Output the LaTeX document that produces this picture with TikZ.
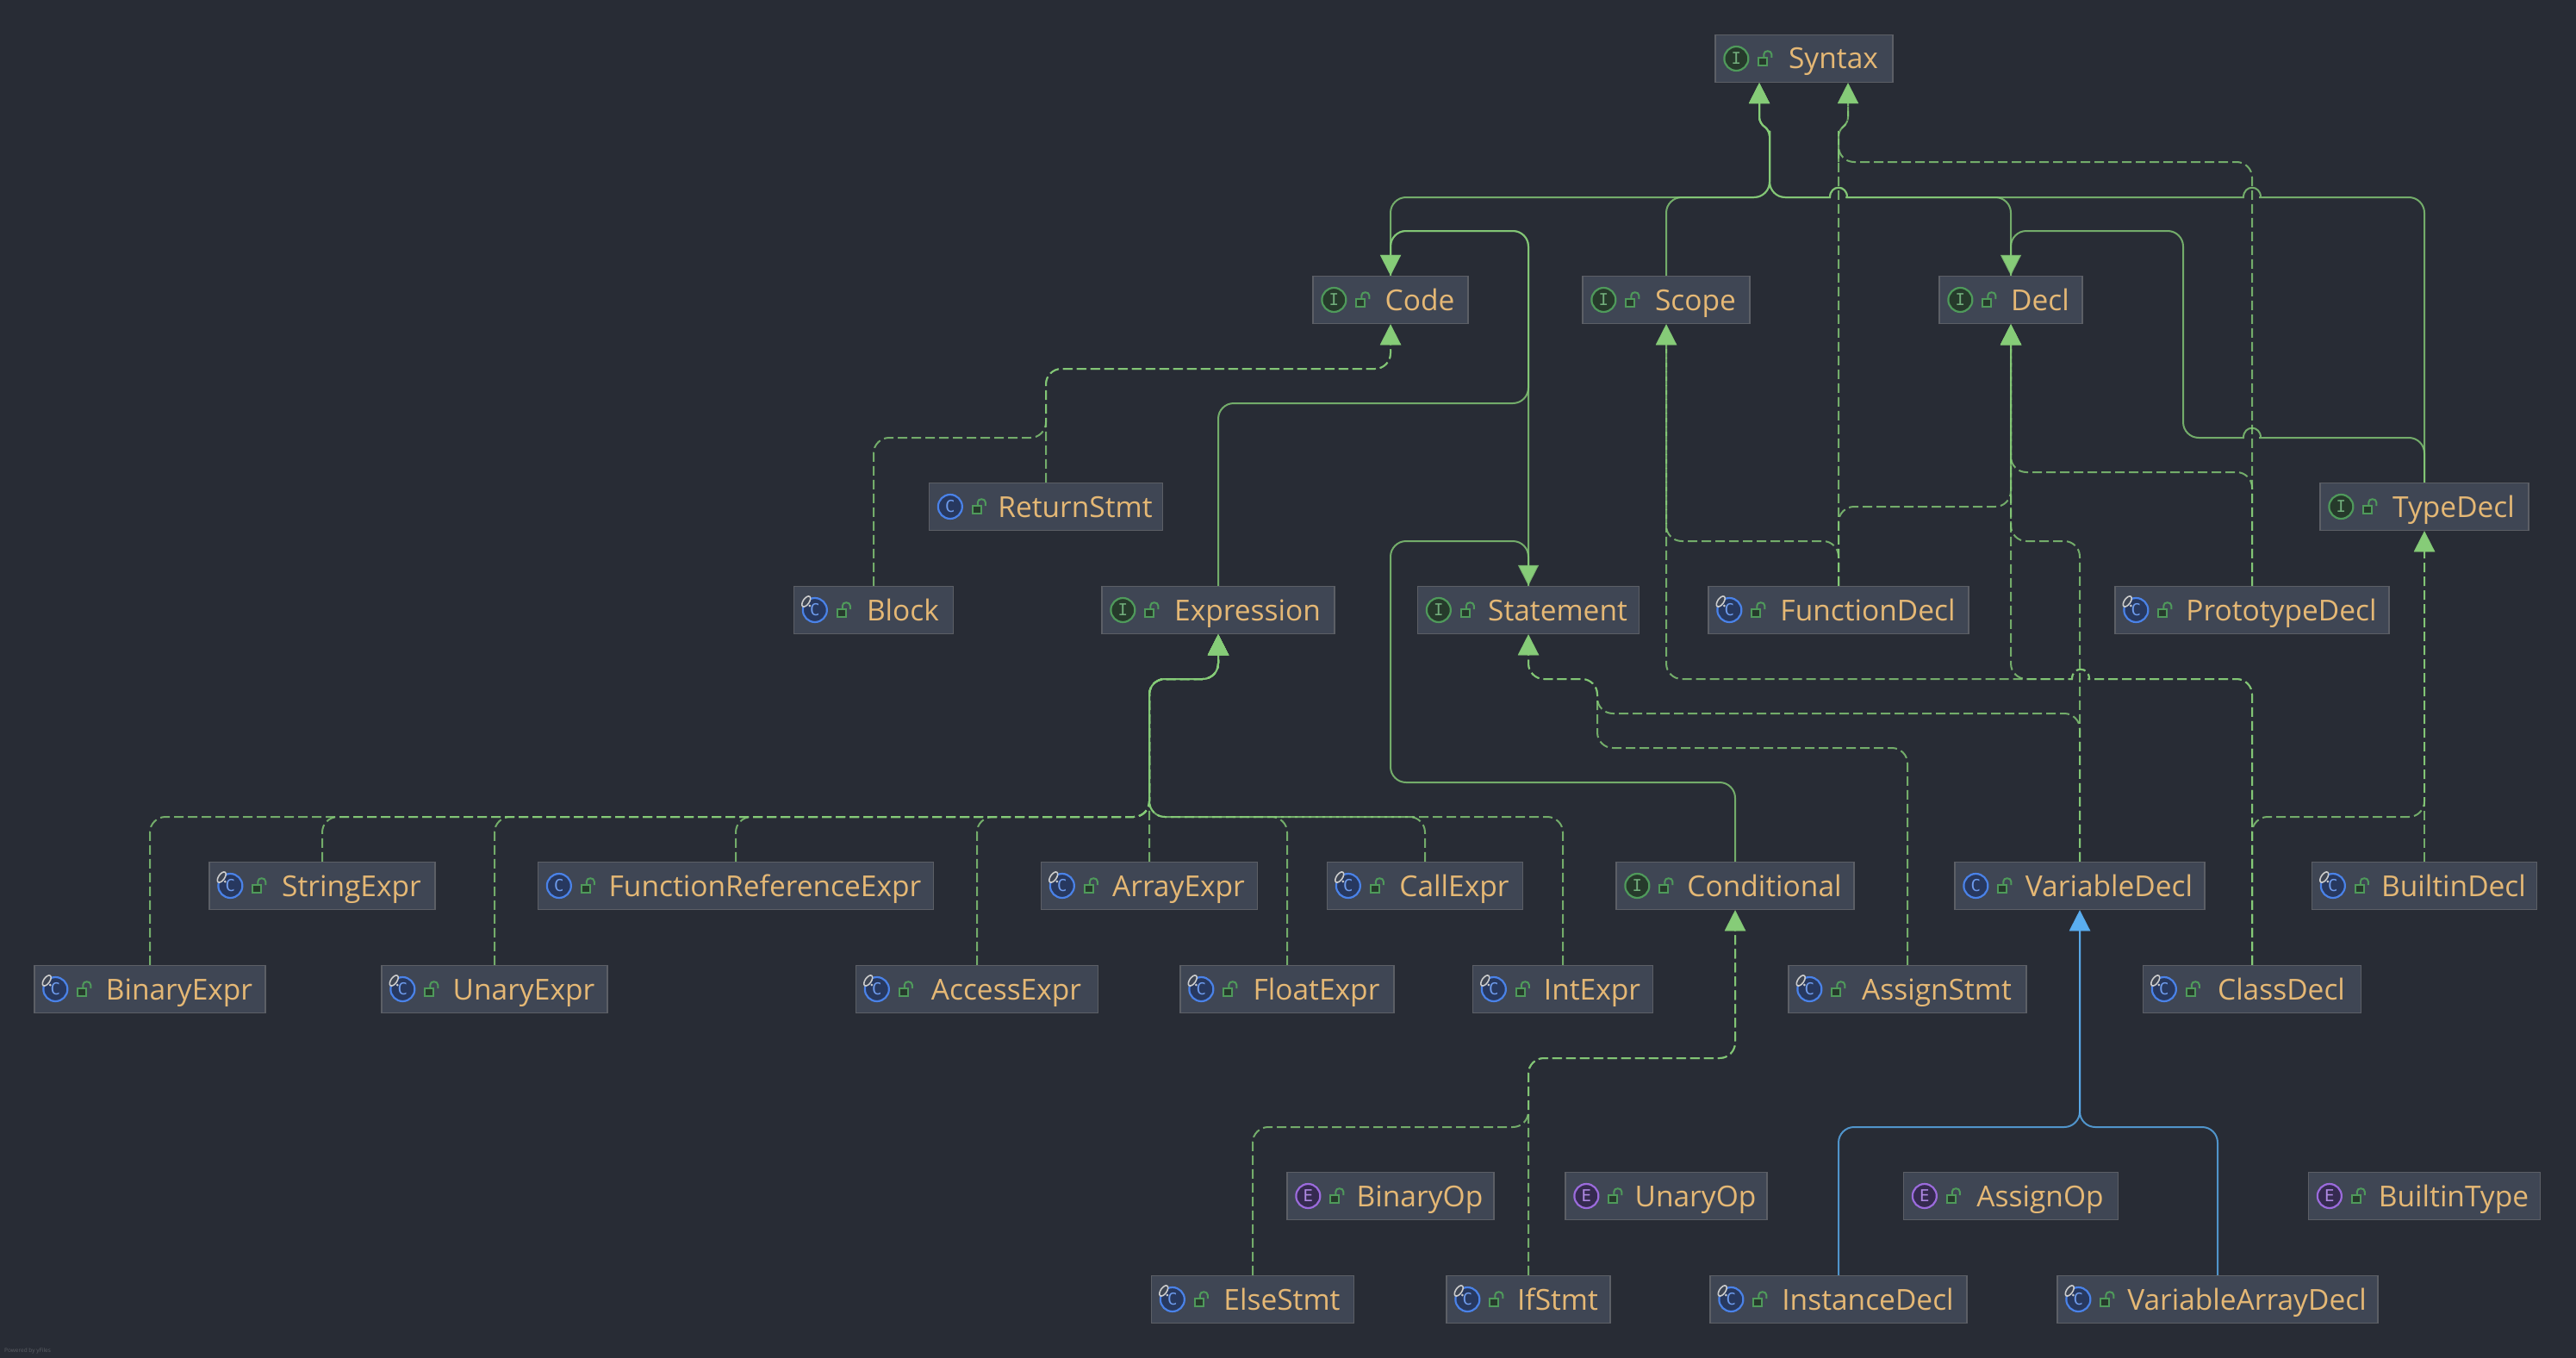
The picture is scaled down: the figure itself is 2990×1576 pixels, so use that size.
\documentclass[tikz,border=0pt]{standalone}
\usepackage{fontspec}
\setmainfont{Open Sans}
\newfontfamily\iconfont{DejaVu Sans Mono}
\usetikzlibrary{positioning}
\usetikzlibrary{arrows.meta}

\definecolor{canvasbg}{HTML}{282C35}
\definecolor{boxfill}{HTML}{3F4654}
\definecolor{boxline}{HTML}{5C5F66}
\definecolor{labeltext}{HTML}{E5B875}
\definecolor{edgegreen}{HTML}{86CC78}
\definecolor{edgeblue}{HTML}{5AAEF0}
\definecolor{lockgreen}{HTML}{4F9A5B}
\definecolor{lockfill}{HTML}{263A2B}
\definecolor{classline}{HTML}{4A82E8}
\definecolor{classfill}{HTML}{27385F}
\definecolor{enumline}{HTML}{9B6BDC}
\definecolor{enumfill}{HTML}{352A50}

\tikzset{
	typebox/.style = {draw = boxline, line width = 1.5pt, fill = boxfill, text = labeltext, minimum height = 55pt, inner xsep = 0pt, inner ysep = 0pt, text height = 28pt, text depth = 4pt, font = \fontsize{33.5}{40}\selectfont, execute at begin node = {\hspace*{68pt}}},
	iconbase/.style = {circle, line width = 2.2pt, minimum size = 28pt, inner sep = 0pt, font = \iconfont\fontsize{19}{20}\selectfont},
	ifaceicon/.style = {iconbase, draw = lockgreen, fill = lockfill, text = lockgreen!80!white, node contents = {I}},
	classicon/.style = {iconbase, draw = classline, fill = classfill, text = classline!80!white, node contents = {C}},
	enumicon/.style = {iconbase, draw = enumline, fill = enumfill, text = enumline!80!white, node contents = {E}},
	lockicon/.style = {line width = 2pt, draw = lockgreen},
	tagmark/.style = {line width = 1.6pt, draw = black!20!white},
	ext/.style = {draw = edgegreen, draw opacity = 0.8, line width = 2pt, rounded corners = 18pt, -{Triangle[length = 24pt, width = 24pt, fill = edgegreen]}},
	impl/.style = {ext, dash pattern = on 11pt off 5pt},
	nested/.style = {ext, draw = edgeblue, -{Triangle[length = 24pt, width = 24pt, fill = edgeblue]}}
}

\newcommand{\typenode}[6]{
	\node [typebox, minimum width = #4] (#1) at (#2, #3) {#5};
	\node [name = #1icon, right = 10pt of #1.west, #6];
	\draw [lockicon, fill = lockfill] ([shift = {(51, -1)}]#1.west) rectangle ([shift = {(61, 8)}]#1.west);
	\draw [lockicon] ([shift = {(57, -1)}]#1.west) -- ([shift = {(57, -5)}]#1.west) .. controls ([shift = {(57, -10)}]#1.west) and ([shift = {(66, -10)}]#1.west) .. ([shift = {(66, -5)}]#1.west) -- ([shift = {(66, -1)}]#1.west);
}
\newcommand{\abstractnode}[5]{
	\typenode{#1}{#2}{#3}{#4}{#5}{classicon}
	\coordinate (#1tag) at ([shift = {(15, -10)}]#1.west);
	\draw [tagmark, fill = boxfill] (#1tag) circle [x radius = 7pt, y radius = 3.5pt, rotate = 55];
	\fill [black!20!white] ([shift = {(19, -5)}]#1.west) circle [radius = 1.5pt];
}

\begin{document}
\begin{tikzpicture}[x = 1pt, y = -1pt]
	\useasboundingbox [fill = canvasbg] (0, 0) rectangle (2990, 1576);

	% interfaces and classes, row by row
	\typenode{syntax}{2094}{68}{206}{Syntax}{ifaceicon}
	\typenode{code}{1614}{348}{180}{Code}{ifaceicon}
	\typenode{scope}{1934}{348}{194}{Scope}{ifaceicon}
	\typenode{decl}{2334}{348}{166}{Decl}{ifaceicon}
	\typenode{returnstmt}{1214}{588}{271}{ReturnStmt}{classicon}
	\typenode{typedecl}{2814}{588}{242}{TypeDecl}{ifaceicon}
	\abstractnode{block}{1014}{708}{185}{Block}
	\typenode{expression}{1414}{708}{270}{Expression}{ifaceicon}
	\typenode{statement}{1774}{708}{257}{Statement}{ifaceicon}
	\abstractnode{functiondecl}{2134}{708}{302}{FunctionDecl}
	\abstractnode{prototypedecl}{2614}{708}{318}{PrototypeDecl}
	\abstractnode{stringexpr}{374}{1028}{262}{StringExpr}
	\typenode{functionreferenceexpr}{854}{1028}{459}{FunctionReferenceExpr}{classicon}
	\abstractnode{arrayexpr}{1334}{1028}{251}{ArrayExpr}
	\abstractnode{callexpr}{1654}{1028}{227}{CallExpr}
	\typenode{conditional}{2014}{1028}{276}{Conditional}{ifaceicon}
	\typenode{variabledecl}{2414}{1028}{290}{VariableDecl}{classicon}
	\abstractnode{builtindecl}{2814}{1028}{261}{BuiltinDecl}
	\abstractnode{binaryexpr}{174}{1148}{268}{BinaryExpr}
	\abstractnode{unaryexpr}{574}{1148}{262}{UnaryExpr}
	\abstractnode{accessexpr}{1134}{1148}{281}{AccessExpr}
	\abstractnode{floatexpr}{1494}{1148}{248}{FloatExpr}
	\abstractnode{intexpr}{1814}{1148}{209}{IntExpr}
	\abstractnode{assignstmt}{2214}{1148}{276}{AssignStmt}
	\abstractnode{classdecl}{2614}{1148}{253}{ClassDecl}
	\typenode{binaryop}{1614}{1388}{240}{BinaryOp}{enumicon}
	\typenode{unaryop}{1934}{1388}{234}{UnaryOp}{enumicon}
	\typenode{assignop}{2334}{1388}{249}{AssignOp}{enumicon}
	\typenode{builtintype}{2814}{1388}{269}{BuiltinType}{enumicon}
	\abstractnode{elsestmt}{1454}{1508}{235}{ElseStmt}
	\abstractnode{ifstmt}{1774}{1508}{190}{IfStmt}
	\abstractnode{instancedecl}{2134}{1508}{298}{InstanceDecl}
	\abstractnode{variablearraydecl}{2574}{1508}{372}{VariableArrayDecl}

	\coordinate (syntaxext) at ([xshift = -52pt]syntax.south);
	\coordinate (syntaximpl) at ([xshift = 51pt]syntax.south);

	% extends
	\draw [ext] (code.north) |- (2054, 229) -- (2054, 170) [rounded corners = 6pt] -- (2054, 152) -- (2042, 142) -- (syntaxext);
	\draw [ext] (scope.north) |- (2054, 229) -- (2054, 170) [rounded corners = 6pt] -- (2054, 152) -- (2042, 142) -- (syntaxext);
	\draw [ext] (decl.north) -- (2334, 229) -- (2160, 229) [sharp corners] -- (2144, 229) .. controls (2144, 214) and (2124, 214) .. (2124, 229) -- (2108, 229) [rounded corners = 18pt] -- (2054, 229) -- (2054, 170) [rounded corners = 6pt] -- (2054, 152) -- (2042, 142) -- (syntaxext);
	\draw [ext] (typedecl.north) -- (2814, 229) -- (2640, 229) [sharp corners] -- (2624, 229) .. controls (2624, 214) and (2604, 214) .. (2604, 229) -- (2144, 229) .. controls (2144, 214) and (2124, 214) .. (2124, 229) -- (2108, 229) [rounded corners = 18pt] -- (2054, 229) -- (2054, 170) [rounded corners = 6pt] -- (2054, 152) -- (2042, 142) -- (syntaxext);
	\draw [ext] (statement.north) -- (1774, 268) -- (1614, 268) -- (code.north);
	\draw [ext] (expression.north) -- (1414, 468) -- (1774, 468) -- (1774, 268) -- (1614, 268) -- (code.north);
	\draw [ext] (conditional.north) -- (2014, 908) -- (1614, 908) -- (1614, 628) -- (1774, 628) -- (statement.north);
	\draw [ext] (typedecl.north) -- (2814, 508) -- (2640, 508) [sharp corners] -- (2624, 508) .. controls (2624, 493) and (2604, 493) .. (2604, 508) -- (2588, 508) [rounded corners = 18pt] -- (2534, 508) -- (2534, 268) -- (2334, 268) -- (decl.north);
	\draw [nested] (instancedecl.north) -- (2134, 1308) -- (2414, 1308) -- (variabledecl.south);
	\draw [nested] (variablearraydecl.north) -- (2574, 1308) -- (2414, 1308) -- (variabledecl.south);

	% implements
	\draw [impl] (functiondecl.north) -- (2134, 170) [rounded corners = 6pt] -- (2134, 152) -- (2145, 142) -- (syntaximpl);
	\draw [impl] (prototypedecl.north) -- (2614, 188) -- (2134, 188) -- (2134, 170) [rounded corners = 6pt] -- (2134, 152) -- (2145, 142) -- (syntaximpl);
	\draw [impl] (functiondecl.north) -- (2134, 628) -- (1934, 628) -- (scope.south);
	\draw [impl] (functiondecl.north) -- (2134, 588) -- (2334, 588) -- (decl.south);
	\draw [impl] (prototypedecl.north) -- (2614, 548) -- (2334, 548) -- (decl.south);
	\draw [impl] (classdecl.north) -- (2614, 788) -- (2441, 788) [sharp corners] -- (2425, 788) .. controls (2425, 773) and (2405, 773) .. (2405, 788) -- (2389, 788) [rounded corners = 18pt] -- (2334, 788) -- (decl.south);
	\draw [impl] (classdecl.north) -- (2614, 788) -- (2441, 788) [sharp corners] -- (2425, 788) .. controls (2425, 773) and (2405, 773) .. (2405, 788) -- (2389, 788) [rounded corners = 18pt] -- (1934, 788) -- (scope.south);
	\draw [impl] (classdecl.north) -- (2614, 948) -- (2814, 948) -- (typedecl.south);
	\draw [impl] (builtindecl.north) -- (typedecl.south);
	\draw [impl] (variabledecl.north) -- (2414, 628) -- (2334, 628) -- (decl.south);
	\draw [impl] (variabledecl.north) -- (2414, 828) -- (1854, 828) -- (1854, 788) -- (1774, 788) -- (statement.south);
	\draw [impl] (assignstmt.north) -- (2214, 868) -- (1854, 868) -- (1854, 788) -- (1774, 788) -- (statement.south);
	\draw [impl] (block.north) -- (1014, 508) -- (1214, 508) -- (1214, 428) -- (1614, 428) -- (code.south);
	\draw [impl] (returnstmt.north) -- (1214, 428) -- (1614, 428) -- (code.south);
	\draw [impl] (elsestmt.north) -- (1454, 1308) -- (1774, 1308) -- (1774, 1228) -- (2014, 1228) -- (conditional.south);
	\draw [impl] (ifstmt.north) -- (1774, 1228) -- (2014, 1228) -- (conditional.south);
	\draw [impl] (arrayexpr.north) -- (1334, 788) -- (1414, 788) -- (expression.south);
	\foreach \exprname/\exprx in {binaryexpr/174, stringexpr/374, unaryexpr/574, functionreferenceexpr/854, accessexpr/1134, floatexpr/1494, callexpr/1654, intexpr/1814}
		\draw [impl] (\exprname.north) -- (\exprx, 948) -- (1334, 948) -- (1334, 788) -- (1414, 788) -- (expression.south);

	\node [text = boxline, inner sep = 0pt, font = \fontsize{6.5}{8}\selectfont, anchor = west] (poweredby) at (5, 1568) {Powered by yFiles};
\end{tikzpicture}
\end{document}
